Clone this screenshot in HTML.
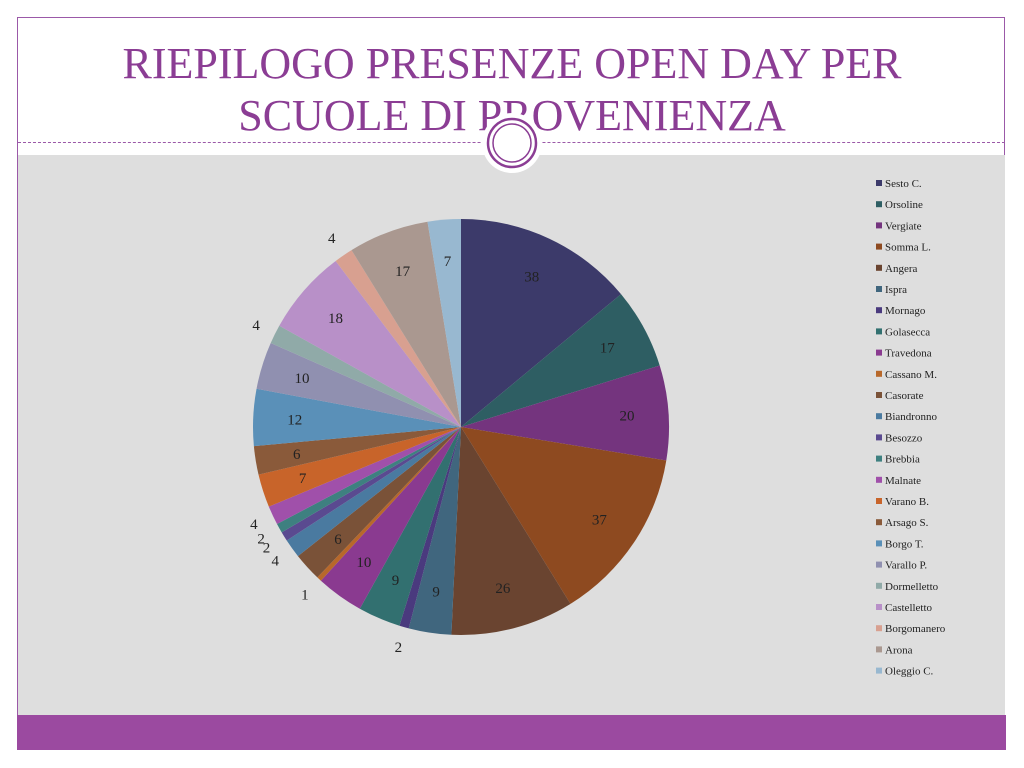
<!DOCTYPE html>
<html><head><meta charset="utf-8">
<style>
body{margin:0;width:1024px;height:768px;background:#fff;position:relative;overflow:hidden;font-family:"Liberation Serif",serif}
#frame{position:absolute;left:17px;top:17px;width:988px;height:733px;border:1px solid #9b59a8;border-bottom:none;box-sizing:border-box}
#title{position:absolute;left:17px;top:38px;width:990px;text-align:center;color:#8b3d94;font-size:44px;line-height:52px}
#gray{position:absolute;left:18px;top:155px;width:987px;height:560px;background:#dedede}
#bar{position:absolute;left:17px;top:715px;width:989px;height:35px;background:#9b4aa0}
#dash{position:absolute;left:18px;top:142px;width:987px;border-top:1px dashed #9b59a8}
svg{position:absolute;left:0;top:0}
</style></head><body>
<div id="frame"></div>
<div id="gray"></div>
<div id="bar"></div>
<div id="dash"></div>
<div id="title">RIEPILOGO PRESENZE OPEN DAY PER<br>SCUOLE DI PROVENIENZA</div>
<svg width="1024" height="768" id="svg">
<circle cx="512" cy="143" r="30" fill="#fff" stroke="none"/>
<circle cx="512" cy="143" r="24" fill="none" stroke="#8b3d94" stroke-width="2.5"/>
<circle cx="512" cy="143" r="19" fill="none" stroke="#8b3d94" stroke-width="1.5"/>
<g id="slices"></g><g id="labels"></g><g id="legend"></g>
</svg>
<script>
const categories=["Sesto C.","Orsoline","Vergiate","Somma L.","Angera","Ispra","Mornago","Golasecca","Travedona","Cassano M.","Casorate","Biandronno","Besozzo","Brebbia","Malnate","Varano B.","Arsago S.","Borgo T.","Varallo P.","Dormelletto","Castelletto","Borgomanero","Arona","Oleggio C."];
const values=[38,17,20,37,26,9,2,9,10,1,6,4,2,2,4,7,6,12,10,4,18,4,17,7];
const colors=["#3c3a6a","#2e5e63","#74347e","#8e4a20","#6a4430","#40667e","#4a3a7e","#327070","#8a3a90","#b8682a","#7a5238","#4a7aa0","#5a4a90","#3e8080","#a050aa","#c8642a","#8a5a3a","#5a90b8","#9090b0","#90aaa8","#b890c8","#d8a090","#aa9890","#98b8d0"];
const NS="http://www.w3.org/2000/svg";
const cx=461,cy=427,R=208;
const total=values.reduce((a,b)=>a+b,0);
function pt(a,r){return [cx+r*Math.sin(a),cy-r*Math.cos(a)];}
const gS=document.getElementById('slices'),gL=document.getElementById('labels'),gG=document.getElementById('legend');
let acc=0;
values.forEach((v,i)=>{
  const a0=acc/total*2*Math.PI;acc+=v;const a1=acc/total*2*Math.PI;
  const p0=pt(a0,R),p1=pt(a1,R);
  const p=document.createElementNS(NS,'path');
  p.setAttribute('d',`M${cx},${cy}L${p0[0]},${p0[1]}A${R},${R} 0 ${a1-a0>Math.PI?1:0} 1 ${p1[0]},${p1[1]}Z`);
  p.setAttribute('fill',colors[i]);
  
  
  gS.appendChild(p);
  const am=(a0+a1)/2;const lp=v>=6?pt(am,R*0.8):pt(am,R*1.1);
  const t=document.createElementNS(NS,'text');
  t.setAttribute('x',lp[0]);t.setAttribute('y',lp[1]+5);
  t.setAttribute('text-anchor','middle');t.setAttribute('font-size','15');t.setAttribute('fill','#222');
  t.setAttribute('font-family','Liberation Serif, serif');
  
  
  t.textContent=v;gL.appendChild(t);
  const y=184+i*21.2;
  const r=document.createElementNS(NS,'rect');
  r.setAttribute('x',876);r.setAttribute('y',y-4);r.setAttribute('width',6);r.setAttribute('height',6);r.setAttribute('fill',colors[i]);
  
  
  gG.appendChild(r);
  const lt=document.createElementNS(NS,'text');
  lt.setAttribute('x',885);lt.setAttribute('y',y+3);lt.setAttribute('font-size','11');lt.setAttribute('fill','#222');
  lt.setAttribute('font-family','Liberation Serif, serif');
  
  
  lt.textContent=categories[i];gG.appendChild(lt);
});
</script>
</body></html>
